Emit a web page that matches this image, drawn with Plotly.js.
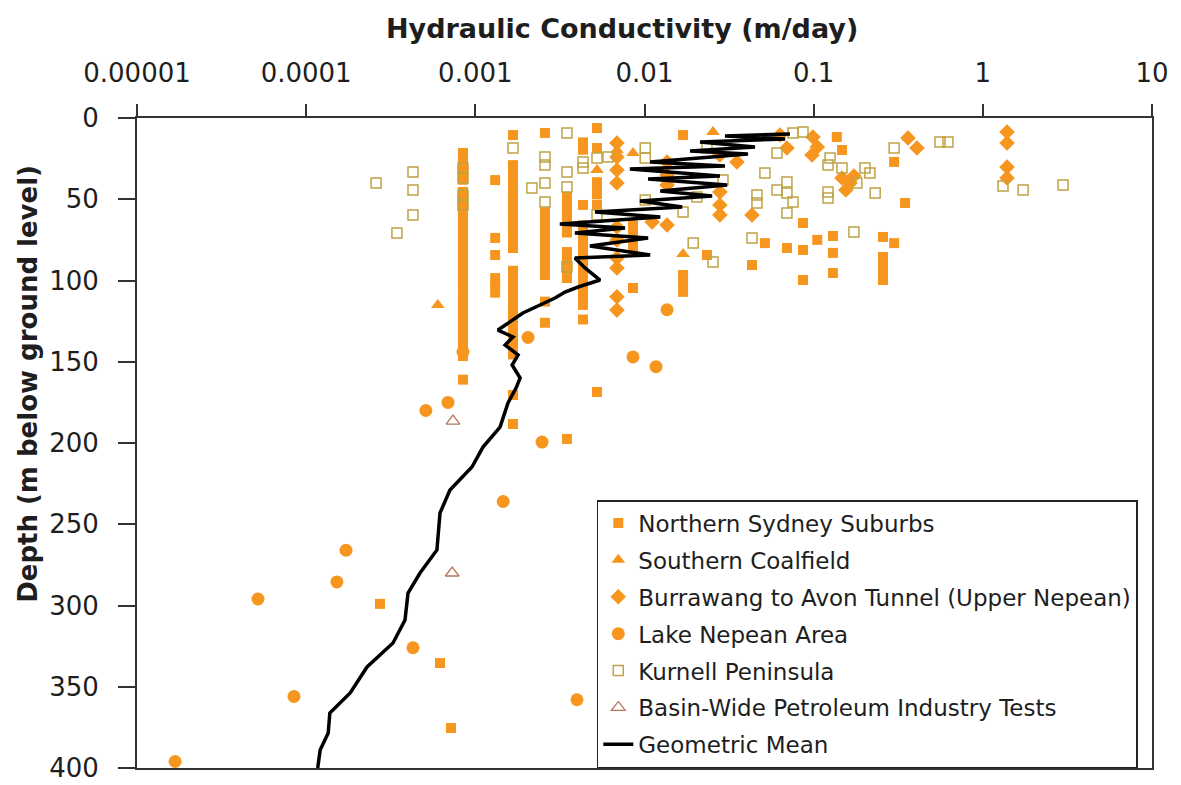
<!DOCTYPE html>
<html>
<head>
<meta charset="utf-8">
<script src="https://cdn.plot.ly/plotly-3.0.1.min.js"></script>
<style>html,body{margin:0;padding:0;background:#fff;}#chart{width:1181px;height:785px;}</style>
</head>
<body>
<div id="chart"></div>
<script>
// ---------------- DATA ----------------
// Northern Sydney Suburbs (K in m/day, depth in m)
const nssK = [
  0.000845,0.000845,0.000845,0.000845,0.000845,0.000845,0.000845,0.000845,0.000845,0.000845,
  0.000845,0.000845,0.000845,0.000845,0.000845,0.000845,0.000845,0.000845,0.000845,0.000845,
  0.000845,0.000845,0.000845,0.000845,0.000845,0.000845,0.000845,0.000845,0.000845,0.000845,
  0.000845,0.000845,0.000845,0.000845,0.000845,0.000845,0.000845,0.000845,0.000845,0.000845,
  0.000845,0.000845,
  0.00131,0.00131,0.00131,0.00131,0.00131,0.00131,
  0.00167,0.00167,0.00167,0.00167,0.00167,0.00167,0.00167,0.00167,0.00167,0.00167,
  0.00167,0.00167,0.00167,0.00167,0.00167,0.00167,0.00167,0.00167,0.00167,0.00167,
  0.00167,0.00167,0.00167,0.00167,0.00167,0.00167,0.00167,0.00167,0.00167,0.00167,
  0.00167,0.00167,0.00167,0.00167,0.00167,0.00167,0.00167,0.00167,0.00167,
  0.00258,0.00258,0.00258,0.00258,0.00258,0.00258,0.00258,0.00258,0.00258,0.00258,
  0.00258,0.00258,0.00258,0.00258,0.00258,0.00258,
  0.00348,0.00348,0.00348,0.00348,0.00348,0.00348,0.00348,0.00348,0.00348,0.00348,
  0.00348,0.00348,0.00348,0.00348,
  0.00433,0.00433,0.00433,0.00433,0.00433,0.00433,0.00433,0.00433,0.00433,0.00433,
  0.00433,0.00433,0.00433,0.00433,0.00433,0.00433,0.00433,0.00433,0.00433,0.00433,0.00433,
  0.00524,0.00524,0.00524,0.00524,0.00524,0.00524,0.00524,
  0.00855,0.00855,0.00855,0.00855,0.00855,0.00855,
  0.000273,0.000618,0.000718,
  0.0169,0.0169,0.0169,0.0169,0.0234,0.0432,0.0515,0.0695,0.0865,0.0865,0.0865,
  0.105,0.13,0.13,0.13,0.137,0.147,0.299,0.347,0.257,0.299,0.257,0.257,0.257,0.257
];
const nssDepth = [
  21.5,24,26.5,29,32,35,38,45.5,48,51,
  54,57,60,63,66,69,72,75,78,81,
  84,87,90,93,96,99,102,105,110,113,
  116,119,122,125,128,131,134,137,140,143,
  146.5,161,
  38.2,73.8,84.3,98.5,102.5,107.5,
  10.5,29,32,35,38,41,44,47,50,53,
  56,59,62,65,68,71,74,77,80,94,
  97,100,103,106,109,112,115,118,121,124,
  127,130,133,136,139,142,145.5,170.5,188.3,
  9.2,58,61,64,67,70,73,76,79,82,
  85,88,91.5,96.6,113,126,
  48.6,52,55,58,61,64,67,70.5,82.5,85.5,
  88.5,94.5,98.5,197.5,
  15,19.5,53.5,66,69,72,75,78,81,84,
  87,90,93,96,99,102,105,108,111,115,124,
  6.2,18.5,39.5,43,47,53.5,168.6,
  66,70,74,78,82,104.6,
  299,335.4,375.4,
  10.5,96.6,101.5,107,84.3,90.5,77,80,64.6,81.2,99.7,
  75,72.6,83,95.4,11.7,19.7,27,52.3,73.2,77,85.5,90.5,95.4,99.7
];

// Southern Coalfield
const scK = [0.0006,0.00524,0.00855,0.0254,0.0169,0.00687];
const scDepth = [115,32,21.5,8.6,83.7,19.7];

// Burrawang to Avon Tunnel (Upper Nepean)
const batK = [1.39,1.39,1.39,1.39,0.361,0.408,0.099,0.105,0.0977,0.0695,0.0632,
  0.147,0.164,0.173,0.155,
  0.00687,0.00687,0.00687,0.00687,0.00687,0.00687,0.00687,0.00687,0.00687,0.00687,
  0.0136,0.0136,0.0136,0.0136,0.0111,0.0279,0.0279,0.0279,0.0279,0.0432,0.0352];
const batDepth = [8.6,15.4,30.2,36.9,12.3,18.5,11.7,17.8,22.8,18.5,10.5,
  36.9,40,35.7,44.3,
  15.4,24,32,40,67.1,75.1,86.2,92.3,110,118.2,
  27.1,35.1,41.2,65.8,64,22.8,45.5,53.5,59.7,59.7,27.1];

// Lake Nepean Area
const lnK = [0.0000168,0.0000519,0.0000847,0.000152,0.000172,0.000428,0.00051,0.000689,
  0.000845,0.00146,0.00205,0.00248,0.00399,0.00855,0.0117,0.0136];
const lnDepth = [396,296,356,285.5,266,326,180,175,
  144,236,135,199.4,358,147,153,118];

// Kurnell Peninsula
const kpK = [0.000259,0.000428,0.000428,0.000428,0.000344,
  0.000845,0.000845,0.000845,0.000845,
  0.00167,0.00216,0.00258,0.00258,0.00258,0.00258,
  0.00348,0.00348,0.00348,0.00348,0.00433,0.00433,0.00524,0.00524,0.00608,
  0.0101,0.0101,0.0101,0.0169,0.0204,0.0234,0.0291,0.0194,0.0254,
  0.0432,0.0462,0.0462,0.0515,0.0607,0.0607,0.0695,0.0695,0.0695,0.0755,0.0755,0.0865,
  0.1216,0.1216,0.1216,0.125,0.147,0.18,0.201,0.215,0.231,0.173,0.299,
  0.558,0.622,1.316,1.73,2.98];
const kpDepth = [40,33.2,44.3,59.7,70.8,
  30.8,36.9,47.4,53.5,
  18.5,43.1,24,28.9,40,51.7,
  9.2,33.2,42.5,91.7,27.1,30.8,24.6,59.7,24,
  18.5,24.6,50.5,57.8,48.6,18.5,38.2,76.9,88.6,
  73.8,52.3,47.4,33.8,21.5,44.3,39.4,46.2,58.5,51.7,9.2,8.6,
  28.9,45.5,49.2,24.6,30.8,40,30.8,33.8,46.2,70.2,18.5,
  14.8,14.8,41.8,44.3,41.2];

// Basin-Wide Petroleum Industry Tests
const bwK = [0.000738,0.00073];
const bwDepth = [186.5,280];

// Geometric Mean
const gmK = [0.0724,0.0299,0.0678,0.0213,0.045,0.0186,0.0409,0.0108,0.0299,0.0082,
  0.0279,0.0105,0.0308,0.0124,0.0251,0.0094,0.0167,0.0051,0.0124,0.00316,
  0.00767,0.00388,0.0105,0.00476,0.0108,0.00388,0.00445,0.00546,0.00405,0.00339,
  0.00296,0.00241,0.00191,0.00136,0.00167,0.0015,0.00179,0.00165,0.00184,0.00174,
  0.00156,0.0014,0.00111,0.000955,0.000708,0.000618,0.000593,0.000471,0.0004,0.000384,
  0.000326,0.000229,0.000182,0.000138,0.000135,0.000121,0.000117];
const gmDepth = [9.8,11.1,12.9,14.8,17.8,20.3,22.2,27.1,29.5,31.4,
  35.7,37.5,41.2,44.9,48,51.1,54.8,57.8,60.9,65.2,
  67.7,70.8,73.8,78.8,84.3,86.2,92.3,99.7,104,107.1,
  110.8,115.1,120,130.5,134.8,139.7,145.8,152,160,166.2,
  175.4,190.2,202.5,214.8,228.9,243.1,265.8,280,292.3,308.9,
  323.1,337.8,353.8,366.2,378.5,388.9,400];

const xTickVals = [0.00001,0.0001,0.001,0.01,0.1,1,10];
const xTickText = ['0.00001','0.0001','0.001','0.01','0.1','1','10'];
const yTickVals = [0,50,100,150,200,250,300,350,400];

// ---------------- STYLE ----------------
const ORANGE = '#F7961E';
const FONT = 'DejaVu Sans, sans-serif';
const TXT = '#1e1e1e';

function pts(name, xs, ys, marker, grp) {
  return {type:'scatter', mode:'markers', name:name, x:xs, y:ys, marker:marker,
          legendgroup:grp, hoverinfo:'x+y'};
}

const traces = [
  pts('Northern Sydney Suburbs', nssK, nssDepth, {symbol:'square', size:10, color:ORANGE}, 'g1'),
  pts('Southern Coalfield', scK, scDepth, {symbol:'triangle-up', size:12, color:ORANGE}, 'g2'),
  pts('Burrawang to Avon Tunnel (Upper Nepean)', batK, batDepth, {symbol:'diamond', size:12, color:ORANGE}, 'g3'),
  pts('Lake Nepean Area', lnK, lnDepth, {symbol:'circle', size:13, color:ORANGE}, 'g4'),
  pts('Kurnell Peninsula', kpK, kpDepth, {symbol:'square-open', size:10, color:'#BFA345', line:{width:1.5, color:'#BFA345'}}, 'g5'),
  pts('Basin-Wide Petroleum Industry Tests', bwK, bwDepth, {symbol:'triangle-up-open', size:12, color:'#B5775C', line:{width:1.3, color:'#B5775C'}}, 'g6'),
  {type:'scatter', mode:'lines', name:'Geometric Mean', x:gmK, y:gmDepth,
   line:{color:'#000', width:3.5}, legendgroup:'g7'}
];

const layout = {
  width:1181, height:785,
  margin:{l:137, r:29, t:118, b:17},
  paper_bgcolor:'#fff', plot_bgcolor:'#fff',
  font:{family:FONT, color:TXT},
  showlegend:true,
  legend:{x:0.453, xanchor:'left', y:0, yanchor:'bottom',
          bordercolor:'#222', borderwidth:1.5, bgcolor:'#fff',
          font:{size:23, family:FONT, color:TXT},
          traceorder:'grouped', tracegroupgap:4},
  xaxis:{type:'log', range:[-5,1], side:'top',
         tickvals:xTickVals, ticktext:xTickText,
         ticks:'outside', ticklen:12, tickwidth:2, tickcolor:'#333',
         ticklabelstandoff:12,
         showline:true, mirror:true, linecolor:'#333', linewidth:2,
         showgrid:false, zeroline:false,
         tickfont:{size:26, family:FONT, color:TXT}},
  yaxis:{range:[400,0], tickvals:yTickVals,
         ticks:'outside', ticklen:17, tickwidth:2, tickcolor:'#333',
         ticklabelstandoff:14,
         showline:true, mirror:true, linecolor:'#333', linewidth:2,
         showgrid:false, zeroline:false,
         tickfont:{size:26, family:FONT, color:TXT}},
  annotations:[
    {text:'<b>Hydraulic Conductivity (m/day)</b>',
     xref:'paper', yref:'paper', x:0.478, y:1.138, xanchor:'center', yanchor:'middle',
     showarrow:false, font:{size:27, family:FONT, color:TXT}},
    {text:'<b>Depth (m below ground level)</b>', textangle:-90,
     xref:'paper', yref:'paper', x:-0.1074, y:0.251, xanchor:'center', yanchor:'bottom',
     showarrow:false, font:{size:26, family:FONT, color:TXT}}
  ]
};

Plotly.newPlot('chart', traces, layout, {displayModeBar:false, staticPlot:true});
</script>
</body>
</html>
